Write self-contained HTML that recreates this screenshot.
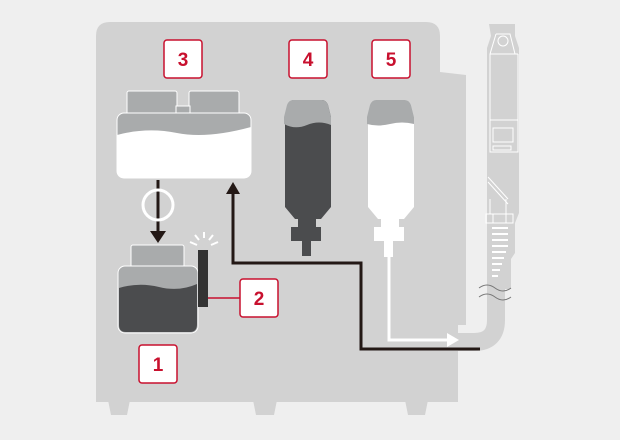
<!DOCTYPE html>
<html><head><style>body{margin:0;background:#efefef}svg{display:block}
.lb{fill:#fff;stroke:#c8102e;stroke-width:1.5}
.lt{font-family:"Liberation Sans",sans-serif;font-weight:bold;font-size:19px;fill:#c8102e;text-anchor:middle}
</style></head><body>
<svg width="620" height="440" viewBox="0 0 620 440">
<rect width="620" height="440" fill="#efefef"/>
<path d="M108 400h22l-3 15h-16z M253 400h24l-3 15h-18z M405 400h23l-3 15h-17z" fill="#d2d2d2"/>
<path d="M96 36q0-14 14-14h316q14 0 14 14v36l26 3v250h-8v77H96z" fill="#d2d2d2"/>
<path d="M496 210V320q0 22-22 22h-18" fill="none" stroke="#d2d2d2" stroke-width="18"/>
<path d="M489 24h26v12l4 12v165l-4 10v30l-4 6v30h-14v-30l-5-6v-30l-5-10V48l4-12z" fill="#d2d2d2"/>
<g fill="none" stroke="#fff" stroke-width="1">
<path d="M490 54h28 M496 34h14l5 20 M496 34l-6 20 M490 54v98h28V54 M490 120h28"/>
<circle cx="503" cy="41" r="5"/>
<rect x="493" y="128" width="20" height="14"/><rect x="493" y="146" width="18" height="4"/>
<path d="M488 177l20 22 M488 182l20 22 M490 199v15 M506 199v15"/>
<rect x="486" y="214" width="27" height="9"/>
<path d="M493 214v9 M506 214v9"/>
<path d="M492 228h16M492 234h16M492 240h16M492 246h16M492 252h14M492 258h12M492 264h10M492 270h8M492 276h6" stroke-width="2"/>
</g>
<path d="M479 288q8-6 16 0t16 0 M479 297q8-6 16 0t16 0" fill="none" stroke="#777" stroke-width="1"/>
<rect class="lb" x="164" y="40" width="38" height="38" rx="3"/><text class="lt" x="183" y="66">3</text>
<rect class="lb" x="289" y="40" width="38" height="38" rx="3"/><text class="lt" x="308" y="66">4</text>
<rect class="lb" x="372" y="40" width="38" height="38" rx="3"/><text class="lt" x="391" y="66">5</text>
<rect class="lb" x="240" y="279" width="38" height="38" rx="3"/><text class="lt" x="259" y="305">2</text>
<rect class="lb" x="139" y="345" width="38" height="38" rx="3"/><text class="lt" x="158" y="371">1</text>
<g stroke="#fff" stroke-width="1">
<rect x="127" y="91" width="50" height="25" rx="2" fill="#a9abac"/>
<rect x="189" y="91" width="50" height="25" rx="2" fill="#a9abac"/>
<rect x="176" y="106" width="14" height="8" fill="#a9abac"/>
<rect x="117" y="113" width="134" height="65" rx="7" fill="#a9abac"/>
</g>
<path d="M117 135q30-8 60-2t74-6v44q0 7-7 7H124q-7 0-7-7z" fill="#fff"/>
<line x1="158" y1="180" x2="158" y2="232" stroke="#231815" stroke-width="3"/>
<path d="M150 231h16l-8 12z" fill="#231815"/>
<circle cx="158" cy="205" r="15" fill="none" stroke="#fff" stroke-width="3"/>
<g stroke="#fff" stroke-width="1">
<rect x="131" y="245" width="53" height="22" rx="2" fill="#a9abac"/>
<rect x="118" y="266" width="80" height="67" rx="7" fill="#a9abac"/>
</g>
<path d="M119 288q20-6 40-1t38-3v40q0 8-7 8H126q-7 0-7-7z" fill="#4b4c4e"/>
<rect x="198" y="250" width="10" height="57" fill="#333"/>
<path d="M197 245l-7-3 M199 240l-4-5 M204 238v-6 M209 240l4-5 M211 245l7-3" stroke="#fff" stroke-width="2"/>
<line x1="208" y1="298" x2="240" y2="298" stroke="#c8102e" stroke-width="1.5"/>
<path d="M233 192V263H361V349H480" fill="none" stroke="#231815" stroke-width="3"/>
<path d="M226 194h14l-7-12z" fill="#231815"/>
<path d="M292 100h30q4 0 6 5l3 12v90l-10 12h-26l-10-12V117l3-12q2-5 6-5z" fill="#4b4c4e"/>
<path d="M292 100h30q4 0 6 5l3 12v8q-12-5-24 0t-23-1v-7l3-12q2-5 6-5z" fill="#a9abac"/>
<rect x="298" y="219" width="18" height="8" fill="#4b4c4e"/>
<rect x="291" y="227" width="30" height="14" fill="#4b4c4e"/>
<rect x="302" y="241" width="9" height="15" fill="#4b4c4e"/>
<path d="M375 100h30q4 0 6 5l3 12v90l-10 12h-26l-10-12V117l3-12q2-5 6-5z" fill="#fff"/>
<path d="M375 100h30q4 0 6 5l3 12v7q-12-3-24 0t-23 0v-7l3-12q2-5 6-5z" fill="#a9abac"/>
<rect x="381" y="219" width="18" height="8" fill="#fff"/>
<rect x="374" y="227" width="30" height="14" fill="#fff"/>
<rect x="384" y="241" width="9" height="16" fill="#fff"/>
<path d="M389 257V340H448" fill="none" stroke="#fff" stroke-width="3"/>
<path d="M447 333v14l12-7z" fill="#fff"/>
</svg>
</body></html>
